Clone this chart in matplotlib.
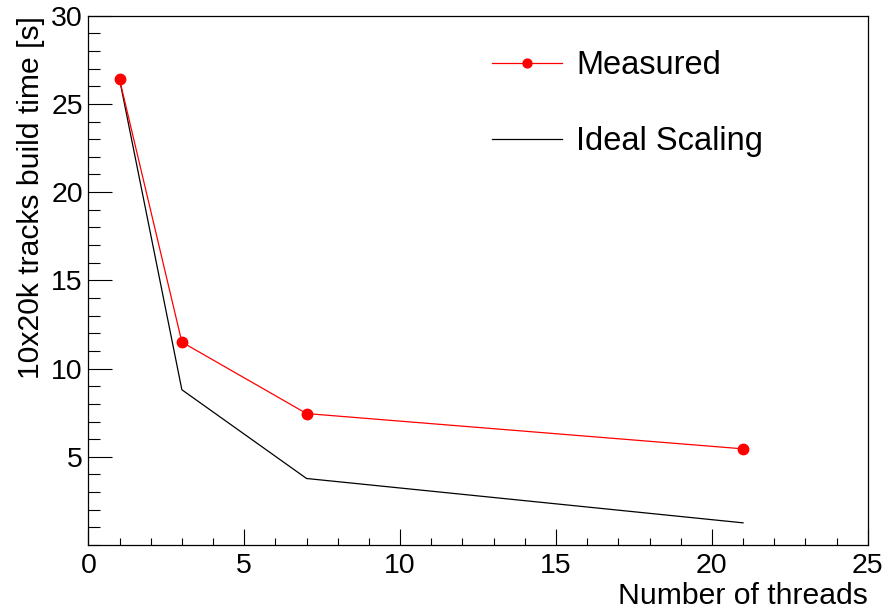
import matplotlib
matplotlib.use("Agg")
import matplotlib.pyplot as plt
from matplotlib.ticker import MultipleLocator

# данні
threads = [1, 3, 7, 21]
measured = [26.4, 11.5, 7.45, 5.45]
ideal = [26.4, 8.8, 3.77, 1.257]

plt.rcParams['font.family'] = ['Liberation Sans', 'DejaVu Sans']

fig = plt.figure(figsize=(8.86, 6.15), dpi=100)
ax = fig.add_axes([0.0997, 0.1138, 0.8797, 0.8607])

ax.plot(threads, ideal, color='black', lw=0.9, label='Ideal Scaling', zorder=2)
ax.plot(threads, measured, color='red', lw=0.9, marker='o', ms=7.5,
        label='Measured', zorder=3)

ax.set_xlim(0, 25)
ax.set_ylim(0, 30)
ax.xaxis.set_major_locator(MultipleLocator(5))
ax.xaxis.set_minor_locator(MultipleLocator(1))
ax.yaxis.set_major_locator(MultipleLocator(5))
ax.yaxis.set_minor_locator(MultipleLocator(1))
ax.set_yticks([5, 10, 15, 20, 25, 30])

ax.tick_params(axis='x', which='major', direction='in', length=11.5, width=0.8,
               labelsize=20.5, pad=6, top=False)
ax.tick_params(axis='x', which='minor', direction='in', length=5, width=0.8, top=False)
ax.tick_params(axis='y', which='major', direction='in', length=17, width=0.8,
               labelsize=20.5, pad=4, right=False)
ax.tick_params(axis='y', which='minor', direction='in', length=8.6, width=0.8, right=False)
for s in ax.spines.values():
    s.set_linewidth(0.9)

ax.set_xlabel('Number of threads', fontsize=21.7, loc='right', labelpad=2)
ax.set_ylabel('10x20k tracks build time [s]', fontsize=21.7, loc='top', labelpad=4)

handles, labels = ax.get_legend_handles_labels()
leg = ax.legend(handles[::-1], labels[::-1], loc='upper left',
                bbox_to_anchor=(0.518, 0.935), frameon=False, fontsize=23.5,
                handlelength=2.15, handletextpad=0.43, labelspacing=1.38,
                borderpad=0, borderaxespad=0, markerscale=0.85)

fig.savefig('out.png', dpi=100)
plt.close(fig)
